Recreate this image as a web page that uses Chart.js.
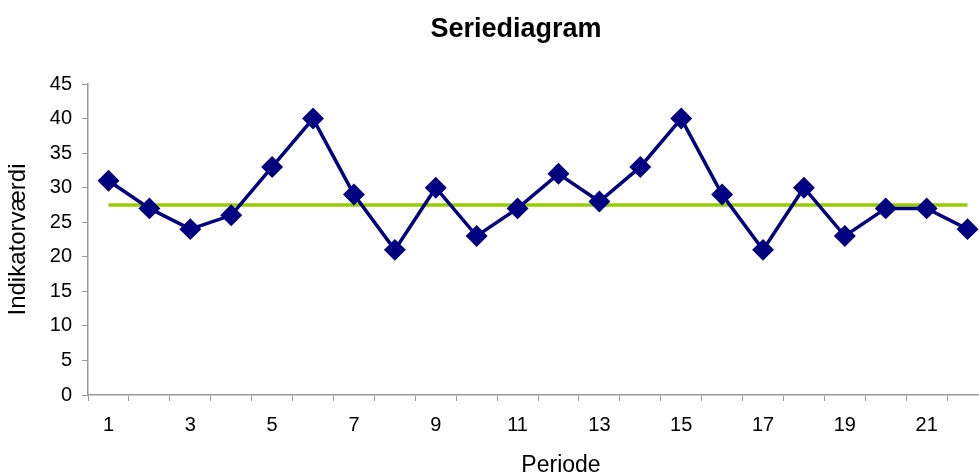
<!DOCTYPE html>
<html>
<head>
<meta charset="utf-8">
<script src="https://cdn.jsdelivr.net/npm/chart.js@4/dist/chart.umd.min.js"></script>
<style>
  html, body { margin: 0; padding: 0; background: #fff; overflow: hidden; }
  #wrap { width: 979px; height: 475px; overflow: hidden; }
  #box { width: 1000px; height: 475px; }
</style>
</head>
<body>
<div id="wrap"><div id="box"><canvas id="myChart"></canvas></div></div>
<script>
// data
var perioder = ["1","2","3","4","5","6","7","8","9","10","11","12","13","14","15","16","17","18","19","20","21","22"];
var vaerdier = [31,27,24,26,33,40,29,21,30,23,27,32,28,33,40,29,21,30,23,27,27,24];
var median = [27.5,27.5,27.5,27.5,27.5,27.5,27.5,27.5,27.5,27.5,27.5,27.5,27.5,27.5,27.5,27.5,27.5,27.5,27.5,27.5,27.5,27.5];
var yTicks = [0,5,10,15,20,25,30,35,40,45];
var tittel = "Seriediagram";
var xTittel = "Periode";
var yTittel = "Indikatorværdi";

var fontNavn = "'Liberation Sans', Arial, sans-serif";
Chart.defaults.font.family = fontNavn;
Chart.defaults.color = "#000";

// title and x axis title sit a bit right of centre in the original, so draw them here
var titlerPlugin = {
    id: 'titler',
    afterDraw: function(chart) {
        var c = chart.ctx;
        c.save();
        c.fillStyle = "#000";
        c.textAlign = "center";
        c.textBaseline = "alphabetic";
        c.font = "bold 27px " + fontNavn;
        c.fillText(tittel, 516, 37);
        c.font = "23px " + fontNavn;
        c.fillText(xTittel, 561, 472);
        c.restore();
    }
};

const ctx = document.getElementById('myChart').getContext('2d');
var myChart = new Chart(ctx, {
    type: 'line',
    data: {
        labels: perioder,
        datasets: [{
            label: "Median",
            data: median,
            borderColor: "#99cc00",
            borderWidth: 3.5,
            pointRadius: 0,
            order: 2
        }, {
            label: yTittel,
            data: vaerdier,
            borderColor: "#000080",
            backgroundColor: "#000080",
            borderWidth: 3.5,
            pointStyle: 'rectRot',
            pointRadius: 8.5,
            pointHoverRadius: 8.5,
            order: 1
        }]
    },
    plugins: [titlerPlugin],
    options: {
        responsive: true,
        maintainAspectRatio: false,
        animation: false,
        layout: { padding: { left: 4, right: 2, top: 84, bottom: 26 } },
        plugins: {
            legend: { display: false },
            tooltip: { enabled: false },
            title: { display: false }
        },
        scales: {
            x: {
                offset: true,
                grid: {
                    offset: true,
                    drawOnChartArea: false,
                    drawTicks: true,
                    tickLength: 6,
                    color: "#999"
                },
                border: { color: "#999", width: 1.5 },
                ticks: {
                    autoSkip: false,
                    maxRotation: 0,
                    font: { size: 20 },
                    padding: 12,
                    callback: function(v, i) { return i % 2 === 0 ? perioder[i] : ""; }
                }
            },
            y: {
                min: 0,
                max: 45,
                afterBuildTicks: function(axis) {
                    axis.ticks = yTicks.map(function(v) { return { value: v }; });
                },
                grid: {
                    drawOnChartArea: false,
                    drawTicks: true,
                    tickLength: 6,
                    color: "#999"
                },
                border: { color: "#999", width: 1.5 },
                ticks: { font: { size: 20 }, padding: 10 },
                title: {
                    display: true,
                    text: yTittel,
                    font: { size: 24 },
                    padding: { top: 0, bottom: 7 }
                }
            }
        }
    }
});
</script>
</body>
</html>
